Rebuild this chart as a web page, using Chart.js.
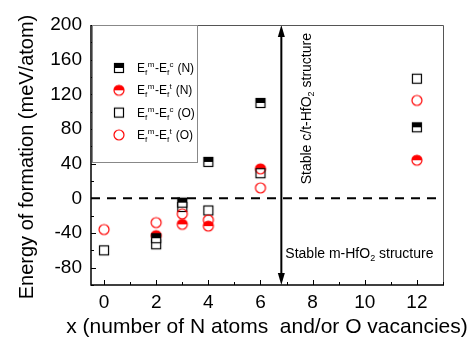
<!DOCTYPE html>
<html><head><meta charset="utf-8">
<script src="https://cdn.jsdelivr.net/npm/chart.js@4"></script>
<style>html,body{margin:0;padding:0;background:#fff}canvas{display:block}</style>
</head><body>
<canvas id="c" width="471" height="343"></canvas>
<script>
// ---- data ----
const X_N = [2, 3, 4, 6, 12];
const N_C = [-46, -5, 42, 110, 82];      // Ef^m - Ef^c (N)
const N_T = [-43, -30, -32, 34, 44];     // Ef^m - Ef^t (N)
const X_O = [0, 2, 3, 4, 6, 12];
const O_C = [-60, -53, -10, -14, 29, 138]; // Ef^m - Ef^c (O)
const O_T = [-36, -28, -18, -25, 12, 113]; // Ef^m - Ef^t (O)
const X_TICKS = [0, 2, 4, 6, 8, 10, 12];
const Y_TICKS = [-80, -40, 0, 40, 80, 120, 160, 200];
const LABELS = ['E_f^m-E_f^c (N)', 'E_f^m-E_f^t (N)', 'E_f^m-E_f^c (O)', 'E_f^m-E_f^t (O)'];
const X_MIN = -0.5, X_MAX = 13, Y_MIN = -100, Y_MAX = 200;
const ARROW_X = 6.8;
const X_TITLE = 'x (number of N atoms  and/or O vacancies)';
const Y_TITLE = 'Energy of formation (meV/atom)';
const UP_TEXT = ['Stable c/t-HfO', '2', ' structure'];
const DOWN_TEXT = ['Stable m-HfO', '2', ' structure'];

const FONT = '"Liberation Sans", Arial, sans-serif';
const RED = '#ff0000';

function mk(kind, color, half) {
  const s = 14, c = document.createElement('canvas');
  c.width = s; c.height = s;
  const g = c.getContext('2d'), m = s / 2;
  g.lineWidth = 1.2; g.strokeStyle = color; g.fillStyle = color;
  if (kind === 'sq') {
    const h = 4.5;
    if (half) {
      g.fillStyle = '#fff'; g.fillRect(m - h, m - h, 2 * h, 2 * h);
      g.fillStyle = color; g.fillRect(m - h, m - h, 2 * h, h);
    }
    g.strokeRect(m - h, m - h, 2 * h, 2 * h);
  } else {
    const r = 5;
    if (half) {
      g.fillStyle = '#fff'; g.beginPath(); g.arc(m, m, r, 0, 2 * Math.PI); g.fill();
      g.fillStyle = color; g.beginPath(); g.arc(m, m, r, Math.PI, 0); g.closePath(); g.fill();
    }
    g.beginPath(); g.arc(m, m, r, 0, 2 * Math.PI); g.stroke();
  }
  return c;
}
const MARKERS = [mk('sq', '#000', true), mk('ci', RED, true), mk('sq', '#000', false), mk('ci', RED, false)];

function pts(xs, ys) { return xs.map((v, i) => ({x: v, y: ys[i]})); }

function drawRich(ctx, str, x, y, size, small) {
  // '_c' subscript, '^c' superscript
  let cx = x, i = 0;
  while (i < str.length) {
    const ch = str[i];
    if ((ch === '_' || ch === '^') && i + 1 < str.length) {
      ctx.font = small + 'px ' + FONT;
      const dy = ch === '_' ? 3 : -5;
      ctx.fillText(str[i + 1], cx, y + dy);
      cx += ctx.measureText(str[i + 1]).width + 0.5;
      i += 2;
    } else {
      ctx.font = size + 'px ' + FONT;
      ctx.fillText(ch, cx, y);
      cx += ctx.measureText(ch).width;
      i += 1;
    }
  }
}
function drawSubParts(ctx, parts, x, y, size, small) {
  let cx = x;
  ctx.font = size + 'px ' + FONT; ctx.fillText(parts[0], cx, y); cx += ctx.measureText(parts[0]).width;
  ctx.font = small + 'px ' + FONT; ctx.fillText(parts[1], cx, y + 3); cx += ctx.measureText(parts[1]).width;
  ctx.font = size + 'px ' + FONT; ctx.fillText(parts[2], cx, y);
}
function partsWidth(ctx, parts, size, small) {
  ctx.font = size + 'px ' + FONT; let w = ctx.measureText(parts[0]).width + ctx.measureText(parts[2]).width;
  ctx.font = small + 'px ' + FONT; w += ctx.measureText(parts[1]).width;
  return w;
}

const deco = {
  id: 'deco',
  beforeDatasetsDraw(chart) {
    const {ctx, chartArea: a, scales: {x, y}} = chart;
    ctx.save();
    // zero dashed line
    const y0 = y.getPixelForValue(0);
    ctx.strokeStyle = '#000'; ctx.lineWidth = 2; ctx.setLineDash([9, 7]);
    ctx.beginPath(); ctx.moveTo(a.left, y0); ctx.lineTo(a.right, y0); ctx.stroke();
    ctx.setLineDash([]);
    // double arrow
    const ax = x.getPixelForValue(ARROW_X);
    ctx.lineWidth = 2;
    ctx.beginPath(); ctx.moveTo(ax, a.top + 8); ctx.lineTo(ax, a.bottom - 8); ctx.stroke();
    ctx.fillStyle = '#000';
    ctx.beginPath(); ctx.moveTo(ax, a.top); ctx.lineTo(ax - 3.5, a.top + 12); ctx.lineTo(ax + 3.5, a.top + 12); ctx.closePath(); ctx.fill();
    ctx.beginPath(); ctx.moveTo(ax, a.bottom); ctx.lineTo(ax - 3.5, a.bottom - 12); ctx.lineTo(ax + 3.5, a.bottom - 12); ctx.closePath(); ctx.fill();
    // texts
    ctx.textBaseline = 'alphabetic'; ctx.textAlign = 'left';
    const upW = partsWidth(ctx, UP_TEXT, 14, 9);
    ctx.save();
    ctx.translate(ax + 30, (a.top + y0) / 2 - 3 + upW / 2);
    ctx.rotate(-Math.PI / 2);
    drawSubParts(ctx, UP_TEXT, 0, 0, 14, 9);
    ctx.restore();
    drawSubParts(ctx, DOWN_TEXT, ax + 4, y.getPixelForValue(-69), 14, 9);
    ctx.restore();
  },
  afterDraw(chart) {
    const {ctx, chartArea: a, scales: {x, y}} = chart;
    ctx.save();
    // frame
    ctx.strokeStyle = '#555'; ctx.lineWidth = 1;
    ctx.beginPath(); ctx.moveTo(a.left, a.top + 0.5); ctx.lineTo(a.right + 0.5, a.top + 0.5); ctx.lineTo(a.right + 0.5, a.bottom); ctx.stroke();
    ctx.strokeStyle = '#000'; ctx.lineWidth = 1.5;
    ctx.beginPath(); ctx.moveTo(a.left, a.top); ctx.lineTo(a.left, a.bottom); ctx.lineTo(a.right + 1, a.bottom); ctx.stroke();
    // ticks
    ctx.lineWidth = 1;
    for (let v = Math.ceil(X_MIN); v <= X_MAX; v++) {
      const px = Math.round(x.getPixelForValue(v)) + 0.5;
      const len = X_TICKS.includes(v) ? 5 : 3;
      ctx.beginPath(); ctx.moveTo(px, a.bottom); ctx.lineTo(px, a.bottom - len); ctx.stroke();
    }
    for (let v = Y_MIN; v <= Y_MAX; v += 20) {
      const py = Math.round(y.getPixelForValue(v)) + 0.5;
      const len = Y_TICKS.includes(v) ? 5 : 3;
      ctx.beginPath(); ctx.moveTo(a.left, py); ctx.lineTo(a.left + len, py); ctx.stroke();
    }
    // legend box
    const lx = a.left + 1, ly = a.top, lw = 105, lh = 137;
    ctx.fillStyle = '#fff'; ctx.fillRect(lx, ly, lw, lh);
    ctx.strokeStyle = '#888'; ctx.lineWidth = 1;
    ctx.strokeRect(lx + 0.5, ly + 0.5, lw, lh);
    ctx.fillStyle = '#000'; ctx.textBaseline = 'alphabetic'; ctx.textAlign = 'left';
    LABELS.forEach((lab, i) => {
      const cy = ly + 43 + i * 22.3;
      const mkc = MARKERS[i];
      ctx.drawImage(mkc, lx + 27 - mkc.width / 2, cy - mkc.height / 2);
      drawRich(ctx, lab, lx + 45, cy + 4, 12, 8);
    });
    // titles
    ctx.fillStyle = '#000';
    ctx.font = '20px ' + FONT; ctx.textAlign = 'center'; ctx.textBaseline = 'alphabetic';
    ctx.save(); ctx.translate(32.5, (a.top + a.bottom) / 2 + 2); ctx.rotate(-Math.PI / 2);
    ctx.fillText(Y_TITLE, 0, 0); ctx.restore();
    ctx.font = '21px ' + FONT;
    ctx.fillText(X_TITLE, (a.left + a.right) / 2, 333);
    ctx.restore();
  }
};

const tickFont = {family: FONT, size: 19};
new Chart(document.getElementById('c'), {
  type: 'scatter',
  data: {
    datasets: [
      {label: LABELS[0], data: pts(X_N, N_C), pointStyle: MARKERS[0], order: 1},
      {label: LABELS[1], data: pts(X_N, N_T), pointStyle: MARKERS[1], order: 3},
      {label: LABELS[2], data: pts(X_O, O_C), pointStyle: MARKERS[2], order: 2},
      {label: LABELS[3], data: pts(X_O, O_T), pointStyle: MARKERS[3], order: 0}
    ]
  },
  options: {
    responsive: false, animation: false, events: [],
    layout: {padding: {left: 0, right: 28, top: 25, bottom: 0}},
    plugins: {legend: {display: false}, tooltip: {enabled: false}},
    scales: {
      x: {
        type: 'linear', min: X_MIN, max: X_MAX,
        afterBuildTicks: s => { s.ticks = X_TICKS.map(v => ({value: v})); },
        afterFit: s => { s.height = 58; },
        grid: {display: false, drawTicks: false}, border: {display: false},
        ticks: {font: tickFont, color: '#000', padding: 6, maxRotation: 0, autoSkip: false}
      },
      y: {
        type: 'linear', min: Y_MIN, max: Y_MAX,
        afterBuildTicks: s => { s.ticks = Y_TICKS.map(v => ({value: v})); },
        afterFit: s => { s.width = 91; },
        grid: {display: false, drawTicks: false}, border: {display: false},
        ticks: {font: tickFont, color: '#000', padding: 9, autoSkip: false}
      }
    }
  },
  plugins: [deco]
});
</script>
</body></html>
